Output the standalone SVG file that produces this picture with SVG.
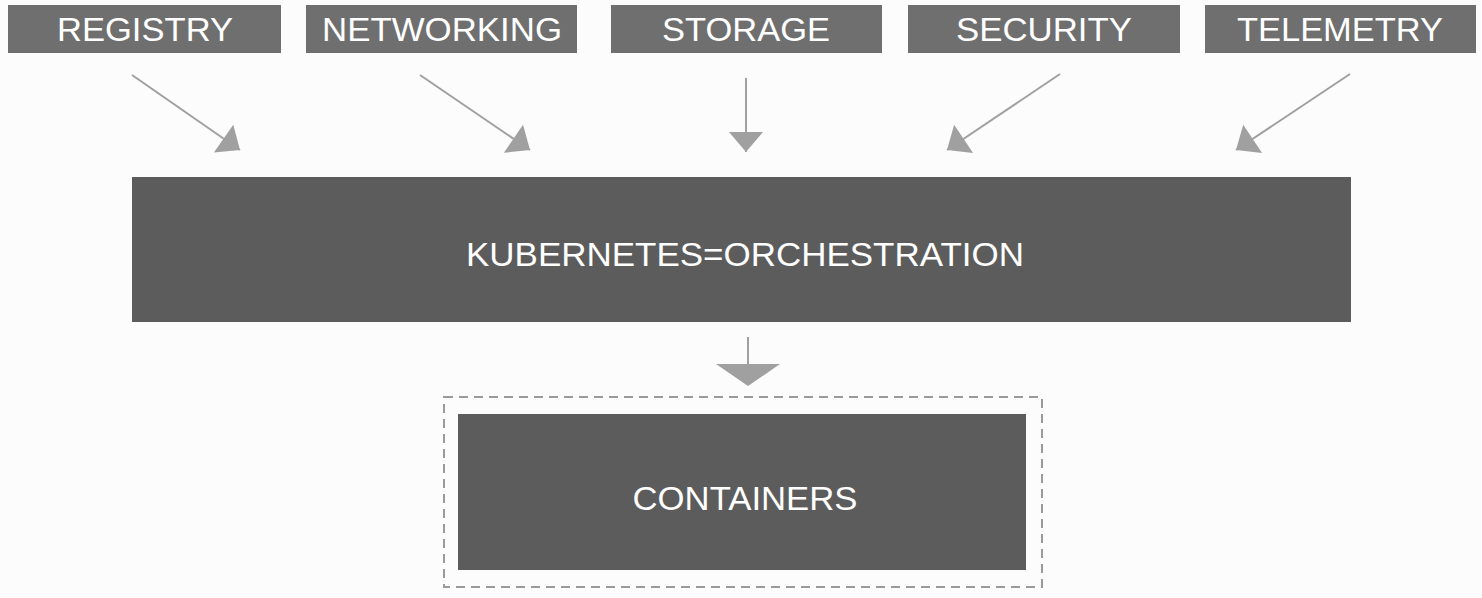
<svg xmlns="http://www.w3.org/2000/svg" width="1482" height="598" viewBox="0 0 1482 598">
<style>
.bg{fill:#fcfcfc}
.top{fill:#6f6f6f}
.main{fill:#5c5c5c}
.lbl{font-family:"Liberation Sans",Arial,sans-serif;fill:#ffffff;text-anchor:middle}
.conn{stroke:#a0a0a0;stroke-width:2;fill:none}
.dash{fill:none;stroke:#9a9a9a;stroke-width:2;stroke-dasharray:9 6}
</style>
<defs>
<marker id="ah" markerUnits="userSpaceOnUse" markerWidth="40" markerHeight="40" refX="20" refY="0" orient="auto" viewBox="-2 -20 24 40" overflow="visible">
<path d="M0,-17 L20,0 L0,17 z" fill="#a0a0a0"/>
</marker>
</defs>
<rect class="bg" x="0" y="0" width="1482" height="598"/>
<g id="registry"><rect class="top" x="8" y="5" width="273" height="48"/><text class="lbl" x="145" y="41" font-size="33" textLength="176" lengthAdjust="spacingAndGlyphs">REGISTRY</text></g>
<g id="networking"><rect class="top" x="306" y="5" width="271" height="48"/><text class="lbl" x="442" y="41" font-size="33" textLength="240" lengthAdjust="spacingAndGlyphs">NETWORKING</text></g>
<g id="storage"><rect class="top" x="611" y="5" width="271" height="48"/><text class="lbl" x="746" y="41" font-size="33" textLength="168" lengthAdjust="spacingAndGlyphs">STORAGE</text></g>
<g id="security"><rect class="top" x="908" y="5" width="272" height="48"/><text class="lbl" x="1044" y="41" font-size="33" textLength="176" lengthAdjust="spacingAndGlyphs">SECURITY</text></g>
<g id="telemetry"><rect class="top" x="1205" y="5" width="271" height="48"/><text class="lbl" x="1340" y="41" font-size="33" textLength="206" lengthAdjust="spacingAndGlyphs">TELEMETRY</text></g>
<g id="kubernetes"><rect class="main" x="132" y="177" width="1219" height="145"/><text class="lbl" x="745" y="266" font-size="34" textLength="558" lengthAdjust="spacingAndGlyphs">KUBERNETES=ORCHESTRATION</text></g>
<g id="containers"><rect class="dash" x="444" y="397" width="598" height="190"/><rect class="main" x="458" y="414" width="568" height="156"/><text class="lbl" x="745" y="510" font-size="34" textLength="225" lengthAdjust="spacingAndGlyphs">CONTAINERS</text></g>
<g id="connectors">
<line class="conn" x1="132" y1="75" x2="240" y2="150" marker-end="url(#ah)"/>
<line class="conn" x1="420" y1="75" x2="530" y2="150" marker-end="url(#ah)"/>
<line class="conn" x1="746" y1="78" x2="746" y2="152" marker-end="url(#ah)"/>
<line class="conn" x1="1060" y1="74" x2="947" y2="150" marker-end="url(#ah)"/>
<line class="conn" x1="1350" y1="74" x2="1236" y2="150" marker-end="url(#ah)"/>
<line class="conn" x1="748" y1="337" x2="748" y2="366"/>
<path d="M716,364 L780,364 L748,386 z" fill="#a0a0a0"/>
</g>
</svg>
